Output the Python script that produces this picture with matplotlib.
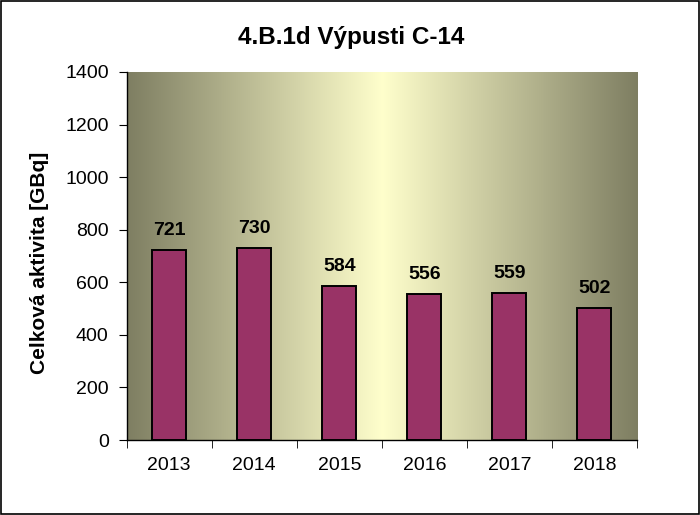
import matplotlib
matplotlib.use("Agg")
import matplotlib.pyplot as plt
import numpy as np

years = ["2013", "2014", "2015", "2016", "2017", "2018"]
values = [721, 730, 584, 556, 559, 502]
title = "4.B.1d Výpusti C-14"
ylabel = "Celková aktivita [GBq]"

plt.rcParams['font.family'] = ['Liberation Sans', 'DejaVu Sans']

fig = plt.figure(figsize=(7, 5.15), dpi=100)
fig.patch.set_facecolor('white')
ax = fig.add_axes([0.181, 0.1456, 0.729, 0.7146])

# gradient background
edge = np.array([126, 126, 98]) / 255
center = np.array([255, 255, 204]) / 255
t = np.linspace(-1, 1, 512)
w = np.abs(t)[None, :, None]
grad = center * (1 - w) + edge * w
ax.imshow(grad, extent=[0, 1, 0, 1], transform=ax.transAxes, aspect='auto', zorder=0)

x = np.arange(len(years))
ax.bar(x, values, width=0.4, color='#993366', edgecolor='black', linewidth=1.4, zorder=2)
for xi, v in zip(x, values):
    ax.annotate(str(v), (xi, v), xytext=(0, 8), textcoords='offset points',
                ha='center', va='bottom', fontsize=14, fontweight='bold', zorder=3)

ax.set_xlim(-0.5, len(years) - 0.5)
ax.set_ylim(0, 1400)
ax.set_yticks(np.arange(0, 1401, 200))
ax.set_xticks(x)
ax.set_xticklabels(years)
ax.set_xticks(np.arange(-0.5, len(years), 1), minor=True)
ax.tick_params(axis='x', which='major', length=0, pad=12, labelsize=14)
ax.tick_params(axis='x', which='minor', length=6, direction='out')
ax.tick_params(axis='y', length=6, direction='out', labelsize=14, pad=7)
for s in ['top', 'right']:
    ax.spines[s].set_visible(False)
ax.spines['left'].set_linewidth(1)
ax.spines['bottom'].set_linewidth(1)
ax.set_ylabel(ylabel, fontsize=15, fontweight='bold')
ax.yaxis.set_label_coords(-0.153, 0.481)
fig.text(0.502, 0.928, title, ha='center', va='center', fontsize=17.5, fontweight='bold')

border = plt.Rectangle((0.001, 0.001), 0.997, 0.997, transform=fig.transFigure,
                       fill=False, edgecolor='black', linewidth=1.2)
fig.patches.append(border)

fig.savefig('out.png', dpi=100)
